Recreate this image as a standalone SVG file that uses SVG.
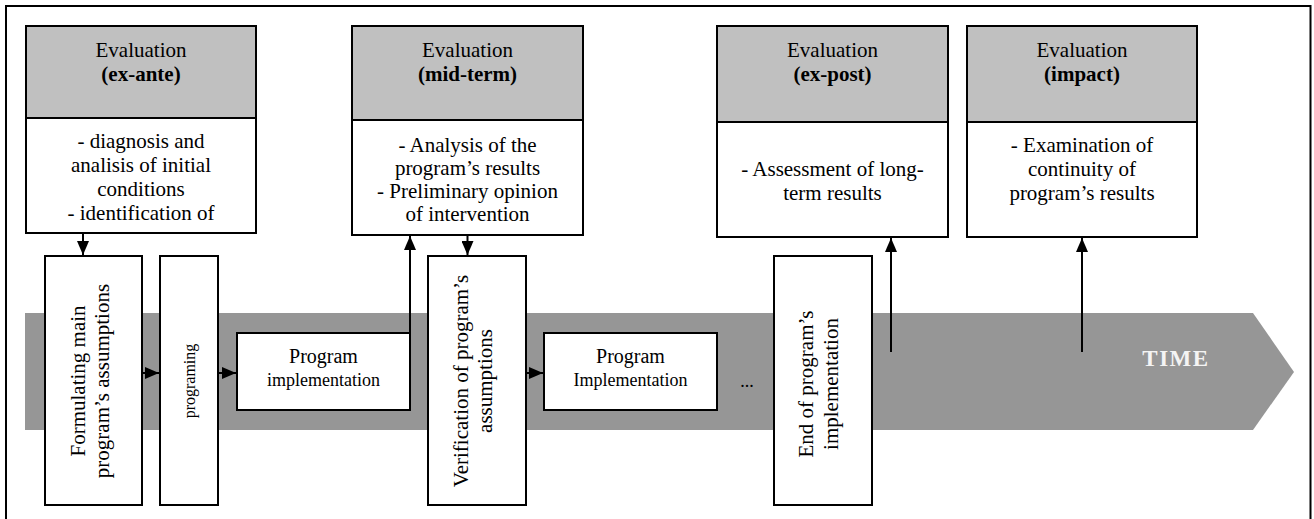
<svg xmlns="http://www.w3.org/2000/svg" width="1314" height="519" viewBox="0 0 1314 519" font-family="'Liberation Serif', Tinos, 'Times New Roman', Times, 'DejaVu Serif', serif">
<style>
text{font-family:'Liberation Serif', Tinos, 'Times New Roman', Times, 'DejaVu Serif', serif}
.t{font-size:21px;fill:#000;text-anchor:middle}
.b{font-weight:bold}
.s18{font-size:18px}
.s20{font-size:20px}
.s16{font-size:16px}
.hd{fill:#c0c0c0;stroke:#000;stroke-width:2}
.bd{fill:#fff;stroke:#000;stroke-width:2}
.ln{stroke:#000;stroke-width:2;fill:none}
</style>
<defs>
<marker id="ah" viewBox="0 0 14 12" markerWidth="14" markerHeight="12" refX="14" refY="6" orient="auto" markerUnits="userSpaceOnUse">
<path d="M0,0 L14,6 L0,12 z" fill="#000"/>
</marker>
</defs>
<rect width="1314" height="519" fill="#fff"/>
<rect x="6" y="6" width="1304.5" height="530" fill="none" stroke="#000" stroke-width="2"/>
<g id="timeline">
<polygon points="25,313 1253,313 1294,372 1253,430 25,430" fill="#969696"/>
<text class="t b" x="1176" y="366" style="font-size:23px;fill:#f4f4f4;letter-spacing:1.5px">TIME</text>
</g>
<g id="eval-ex-ante">
<rect class="hd" x="26" y="26" width="230" height="92"/>
<rect class="bd" x="26" y="118" width="230" height="115"/>
<text class="t" x="141" y="57">Evaluation</text>
<text class="t b" x="141" y="81">(ex-ante)</text>
<text class="t" x="141" y="148">- diagnosis and</text>
<text class="t" x="141" y="172">analisis of initial</text>
<text class="t" x="141" y="196">conditions</text>
<text class="t" x="141" y="220">- identification of</text>
</g>
<g id="eval-mid-term">
<rect class="hd" x="352" y="26" width="231" height="94"/>
<rect class="bd" x="352" y="120" width="231" height="115"/>
<text class="t" x="467.5" y="57">Evaluation</text>
<text class="t b" x="467.5" y="81">(mid-term)</text>
<text class="t" x="467.5" y="152">- Analysis of the</text>
<text class="t" x="467.5" y="175">program’s results</text>
<text class="t" x="467.5" y="198">- Preliminary opinion</text>
<text class="t" x="467.5" y="221">of intervention</text>
</g>
<g id="eval-ex-post">
<rect class="hd" x="717" y="26" width="231" height="96"/>
<rect class="bd" x="717" y="122" width="231" height="115"/>
<text class="t" x="832.5" y="57">Evaluation</text>
<text class="t b" x="832.5" y="81">(ex-post)</text>
<text class="t" x="832.5" y="176">- Assessment of long-</text>
<text class="t" x="832.5" y="200">term results</text>
</g>
<g id="eval-impact">
<rect class="hd" x="967" y="26" width="230" height="96"/>
<rect class="bd" x="967" y="122" width="230" height="115"/>
<text class="t" x="1082" y="57">Evaluation</text>
<text class="t b" x="1082" y="81">(impact)</text>
<text class="t" x="1082" y="152">- Examination of</text>
<text class="t" x="1082" y="176">continuity of</text>
<text class="t" x="1082" y="200">program’s results</text>
</g>
<g id="formulating">
<rect class="bd" x="45" y="256" width="97" height="249"/>
<text class="t" transform="translate(85,381) rotate(-90)">Formulating main</text>
<text class="t" transform="translate(109,381) rotate(-90)">program’s assumptions</text>
</g>
<g id="programing">
<rect class="bd" x="160" y="256" width="58" height="249"/>
<text class="t s16" transform="translate(195,381) rotate(-90)">programing</text>
</g>
<g id="implementation-1">
<rect class="bd" x="237" y="333" width="173" height="77"/>
<text class="t s20" x="323.5" y="363">Program</text>
<text class="t s18" x="323.5" y="386">implementation</text>
</g>
<g id="verification">
<rect class="bd" x="428" y="256" width="98" height="249"/>
<text class="t" transform="translate(468,381) rotate(-90)">Verification of program’s</text>
<text class="t" transform="translate(492,381) rotate(-90)">assumptions</text>
</g>
<g id="implementation-2">
<rect class="bd" x="544" y="333" width="173" height="77"/>
<text class="t s20" x="630.5" y="363">Program</text>
<text class="t s18" x="630.5" y="386">Implementation</text>
</g>
<g id="ellipsis">
<text class="t s18" x="747" y="387">...</text>
</g>
<g id="end">
<rect class="bd" x="774" y="256" width="98" height="249"/>
<text class="t" transform="translate(813,384) rotate(-90)">End of program’s</text>
<text class="t" transform="translate(838,384) rotate(-90)">implementation</text>
</g>
<g id="connectors" class="ln">
<line x1="83" y1="234" x2="83" y2="255" marker-end="url(#ah)"/>
<line x1="142" y1="373" x2="159" y2="373" marker-end="url(#ah)"/>
<line x1="218" y1="373" x2="236" y2="373" marker-end="url(#ah)"/>
<line x1="410" y1="333" x2="410" y2="236" marker-end="url(#ah)"/>
<line x1="467.5" y1="236" x2="467.5" y2="255" marker-end="url(#ah)"/>
<line x1="526" y1="373" x2="543" y2="373" marker-end="url(#ah)"/>
<line x1="891" y1="352" x2="891" y2="238" marker-end="url(#ah)"/>
<line x1="1082" y1="352" x2="1082" y2="238" marker-end="url(#ah)"/>
</g>
</svg>
